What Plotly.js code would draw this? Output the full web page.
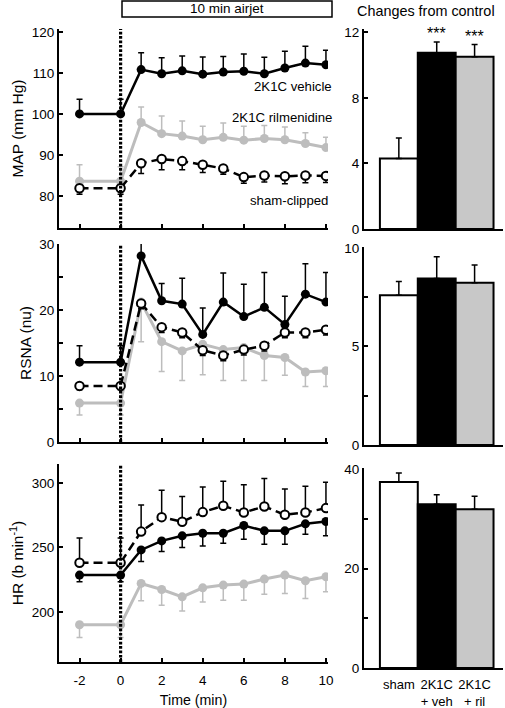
<!DOCTYPE html>
<html>
<head>
<meta charset="utf-8">
<script src="https://cdn.plot.ly/plotly-3.0.1.min.js"></script>
<style>html,body{margin:0;padding:0;background:#fff;}#chart{width:505px;height:708px;}</style>
</head>
<body>
<div id="chart"></div>
<script>
// ---------- data ----------
const times = [-2, 0, 1, 2, 3, 4, 5, 6, 7, 8, 9, 10];
const timeTicks = [-2, 0, 2, 4, 6, 8, 10];
const timeTickText = ['-2', '0', '2', '4', '6', '8', '10'];

// MAP (mm Hg)
const mapVeh    = [100, 100, 110.8, 109.8, 110.5, 109.7, 110.2, 110.4, 109.8, 111.2, 112.4, 112.0];
const mapVehErr = [3.6, 3.6, 4.1, 3.9, 3.6, 4.2, 3.8, 4.2, 4.0, 4.1, 4.1, 3.5];
const mapRil    = [83.6, 83.6, 97.9, 95.2, 94.6, 93.7, 94.3, 93.6, 94.0, 93.7, 92.8, 91.8];
const mapRilErr = [4.0, 3.5, 3.8, 4.3, 3.7, 3.3, 3.5, 3.4, 3.2, 3.1, 2.6, 2.5];
const mapSham   = [81.9, 81.9, 88.0, 89.0, 88.5, 87.6, 86.7, 84.6, 85.0, 84.8, 85.0, 84.9];
const mapShamErr= [1.5, 1.5, 2.5, 2.6, 2.1, 1.9, 1.4, 1.5, 1.6, 1.8, 1.8, 1.6];

// RSNA (nu)
const rsnaVeh    = [12.1, 12.1, 28.2, 21.4, 20.9, 16.3, 21.2, 19.0, 20.4, 17.8, 22.4, 21.2];
const rsnaVehErr = [2.5, 2.5, 2.3, 2.6, 3.9, 4.0, 4.4, 4.9, 5.3, 4.3, 4.6, 4.5];
const rsnaRil    = [5.9, 5.9, 21.2, 15.2, 13.8, 14.8, 14.0, 14.3, 13.1, 12.8, 10.6, 10.8];
const rsnaRilErr = [1.8, 1.8, 6.0, 4.5, 4.5, 4.6, 4.7, 5.0, 3.8, 2.7, 2.2, 2.4];
const rsnaSham   = [8.5, 8.5, 21.0, 17.4, 16.6, 13.9, 13.1, 14.0, 14.6, 16.6, 16.6, 17.0];
const rsnaShamErr= [0.6, 0.6, 0.8, 0.8, 0.8, 0.8, 0.8, 0.8, 0.8, 0.8, 0.8, 0.8];

// HR (b min-1)
const hrVeh    = [228.6, 228.6, 248.1, 255.1, 259.0, 261.0, 261.0, 267.0, 262.9, 262.9, 268.3, 270.1];
const hrVehErr = [5.2, 5.2, 9.0, 8.3, 9.1, 9.8, 7.8, 10.6, 10.4, 10.4, 8.0, 11.0];
const hrRil    = [190.1, 190.1, 222.1, 217.4, 211.7, 218.7, 220.8, 221.6, 225.5, 228.6, 224.2, 227.3];
const hrRilErr = [10.0, 10.0, 13.5, 12.2, 10.9, 10.9, 11.7, 12.5, 11.7, 14.3, 13.8, 11.7];
const hrSham   = [238.2, 238.2, 262.3, 273.5, 269.9, 277.4, 282.3, 277.1, 281.8, 275.3, 277.1, 280.5];
const hrShamErr= [19.2, 19.2, 20.6, 20.8, 19.7, 19.5, 19.0, 21.6, 21.6, 20.0, 20.3, 20.0];

// Changes from control
const groups = ['sham', '2K1C<br>+ veh', '2K1C<br>+ ril'];
const dMap     = [4.3, 10.75, 10.5];
const dMapErr  = [1.25, 0.65, 0.75];
const dRsna    = [7.6, 8.45, 8.24];
const dRsnaErr = [0.7, 1.1, 0.9];
const dHr      = [37.4, 32.9, 31.9];
const dHrErr   = [1.8, 1.9, 2.6];
const sigMarks = ['', '***', '***'];

// ---------- styling ----------
const W = 505, H = 708;
const px = v => v / W;
const py = v => 1 - v / H;
const FONT = 'Arial, "Liberation Sans", sans-serif';
const GREY = '#bdbdbd';
const BARGREY = '#c8c8c8';

const zeros = a => a.map(() => 0);
function errObj(err, dir, color) {
  return {
    type: 'data', symmetric: false,
    array: dir === 'up' ? err : zeros(err),
    arrayminus: dir === 'down' ? err : zeros(err),
    color: color, thickness: 1.5, width: 3
  };
}
function veh(y, err, dir, n) {
  return {x: times, y: y, xaxis: 'x' + n, yaxis: 'y' + n, type: 'scatter', mode: 'lines+markers',
    line: {color: 'black', width: 2.5}, marker: {color: 'black', size: 9},
    error_y: errObj(err, dir, 'black'), showlegend: false, hoverinfo: 'skip'};
}
function ril(y, err, dir, n) {
  return {x: times, y: y, xaxis: 'x' + n, yaxis: 'y' + n, type: 'scatter', mode: 'lines+markers',
    line: {color: GREY, width: 3}, marker: {color: GREY, size: 9},
    error_y: errObj(err, dir, GREY), showlegend: false, hoverinfo: 'skip'};
}
function sham(y, err, dir, n) {
  return {x: times, y: y, xaxis: 'x' + n, yaxis: 'y' + n, type: 'scatter', mode: 'lines+markers',
    line: {color: 'black', width: 2.5, dash: '9px,5px'},
    marker: {color: 'white', size: 8.5, line: {color: 'black', width: 2}},
    error_y: errObj(err, dir, 'black'), showlegend: false, hoverinfo: 'skip'};
}
function bars(y, err, n) {
  return {x: groups, y: y, xaxis: 'x' + n, yaxis: 'y' + n, type: 'bar', width: 1,
    marker: {color: ['white', 'black', BARGREY], line: {color: 'black', width: 2}},
    error_y: {type: 'data', symmetric: false, array: err, arrayminus: zeros(err), color: 'black', thickness: 1.5, width: 3},
    showlegend: false, hoverinfo: 'skip'};
}

const traces = [
  veh(mapVeh, mapVehErr, 'up', ''), ril(mapRil, mapRilErr, 'up', ''), sham(mapSham, mapShamErr, 'down', ''),
  veh(rsnaVeh, rsnaVehErr, 'up', '2'), ril(rsnaRil, rsnaRilErr, 'down', '2'), sham(rsnaSham, rsnaShamErr, 'down', '2'),
  veh(hrVeh, hrVehErr, 'down', '3'), ril(hrRil, hrRilErr, 'down', '3'), sham(hrSham, hrShamErr, 'up', '3'),
  bars(dMap, dMapErr, '4'), bars(dRsna, dRsnaErr, '5'), bars(dHr, dHrErr, '6')
];

const TS = 13.5;
const baseAxis = {
  showline: true, linecolor: 'black', linewidth: 2, mirror: false,
  showgrid: false, zeroline: false, ticks: 'inside', ticklen: 4, tickwidth: 2, tickcolor: 'black',
  tickfont: {family: FONT, size: TS, color: 'black'}, fixedrange: true
};
const ax = o => Object.assign({}, baseAxis, o);
const minorTicks = d => ({dtick: d, ticks: 'inside', ticklen: 4, tickwidth: 2, tickcolor: 'black', showgrid: false});

const leftX = [px(59), px(328)];
const rightX = [px(364), px(503)];
const yTitleFont = {family: FONT, size: 15.5, color: 'black'};
const xTitleFont = {family: FONT, size: 14.2, color: 'black'};
const labelFont = {family: FONT, size: 13.2, color: 'black'};

const layout = {
  width: W, height: H, margin: {l: 0, r: 0, t: 0, b: 0},
  paper_bgcolor: 'white', plot_bgcolor: 'white',
  font: {family: FONT, size: 13, color: 'black'},
  showlegend: false, bargap: 0,
  xaxis:  ax({domain: leftX, anchor: 'y', range: [-3, 10.1], tickvals: timeTicks, showticklabels: false}),
  yaxis:  ax({domain: [py(228), py(29)], anchor: 'x', range: [72.2, 120.7], tickmode: 'linear', tick0: 80, dtick: 10,
              title: {text: 'MAP (mm Hg)', font: yTitleFont, standoff: 4}}),
  xaxis2: ax({domain: leftX, anchor: 'y2', range: [-3, 10.1], tickvals: timeTicks, showticklabels: false}),
  yaxis2: ax({domain: [py(442), py(244)], anchor: 'x2', range: [0, 30], tickmode: 'linear', tick0: 0, dtick: 10,
              minor: minorTicks(5),
              title: {text: 'RSNA (nu)', font: yTitleFont, standoff: 4}}),
  xaxis3: ax({domain: leftX, anchor: 'y3', range: [-3, 10.1], tickvals: timeTicks, ticktext: timeTickText,
              ticklabelstandoff: 5,
              title: {text: 'Time (min)', font: xTitleFont, standoff: 12}}),
  yaxis3: ax({domain: [py(662), py(464)], anchor: 'x3', range: [161.2, 314.7], tickmode: 'linear', tick0: 200, dtick: 50,
              title: {text: 'HR (b min<sup>-1</sup>)', font: yTitleFont, standoff: 4}}),
  xaxis4: ax({domain: rightX, anchor: 'y4', range: [-0.92, 2.75], ticks: '', showticklabels: false, type: 'category'}),
  yaxis4: ax({domain: [py(229), py(29)], anchor: 'x4', range: [0, 12.2], tickmode: 'linear', tick0: 0, dtick: 4}),
  xaxis5: ax({domain: rightX, anchor: 'y5', range: [-0.92, 2.75], ticks: '', showticklabels: false, type: 'category'}),
  yaxis5: ax({domain: [py(445), py(247)], anchor: 'x5', range: [0, 10.05], tickmode: 'linear', tick0: 0, dtick: 5,
              minor: minorTicks(2.5)}),
  xaxis6: ax({domain: rightX, anchor: 'y6', range: [-0.92, 2.75], ticks: '', type: 'category', ticklabelstandoff: 3,
              tickfont: {family: FONT, size: 13, color: 'black'}}),
  yaxis6: ax({domain: [py(668), py(468)], anchor: 'x6', range: [0, 40.2], tickmode: 'linear', tick0: 0, dtick: 20,
              minor: minorTicks(10)}),
  shapes: [
    {type: 'line', xref: 'x', yref: 'y domain', x0: 0, x1: 0, y0: 0, y1: 1, line: {color: 'black', width: 3.2, dash: '2.7px,1.7px'}},
    {type: 'line', xref: 'x2', yref: 'y2 domain', x0: 0, x1: 0, y0: 0, y1: 1, line: {color: 'black', width: 3.2, dash: '2.7px,1.7px'}},
    {type: 'line', xref: 'x3', yref: 'y3 domain', x0: 0, x1: 0, y0: 0, y1: 1, line: {color: 'black', width: 3.2, dash: '2.7px,1.7px'}},
    {type: 'rect', xref: 'paper', yref: 'paper', x0: px(122), x1: px(332), y0: py(17), y1: py(1),
     line: {color: 'black', width: 1.5}, fillcolor: 'white'}
  ],
  annotations: [
    {text: '10 min airjet', xref: 'paper', yref: 'paper', x: px(227), y: py(9), showarrow: false,
     font: {family: FONT, size: 13.5, color: 'black'}, xanchor: 'center', yanchor: 'middle'},
    {text: 'Changes from control', xref: 'paper', yref: 'paper', x: px(426), y: py(11), showarrow: false,
     font: {family: FONT, size: 14.4, color: 'black'}, xanchor: 'center', yanchor: 'middle'},
    {text: '2K1C vehicle', xref: 'paper', yref: 'paper', x: px(334), y: py(86), showarrow: false,
     font: labelFont, xanchor: 'right', yanchor: 'middle'},
    {text: '2K1C rilmenidine', xref: 'paper', yref: 'paper', x: px(334), y: py(117), showarrow: false,
     font: labelFont, xanchor: 'right', yanchor: 'middle'},
    {text: 'sham-clipped', xref: 'paper', yref: 'paper', x: px(330), y: py(200), showarrow: false,
     font: labelFont, xanchor: 'right', yanchor: 'middle'}
  ]
};
groups.forEach((g, i) => {
  if (sigMarks[i]) {
    layout.annotations.push({text: sigMarks[i], xref: 'x4', yref: 'y4', x: g, y: dMap[i] + dMapErr[i],
      yshift: -2, showarrow: false, xanchor: 'center', yanchor: 'bottom',
      font: {family: FONT, size: 16, color: 'black'}});
  }
});

Plotly.newPlot('chart', traces, layout, {staticPlot: true, displayModeBar: false});
</script>
</body>
</html>
